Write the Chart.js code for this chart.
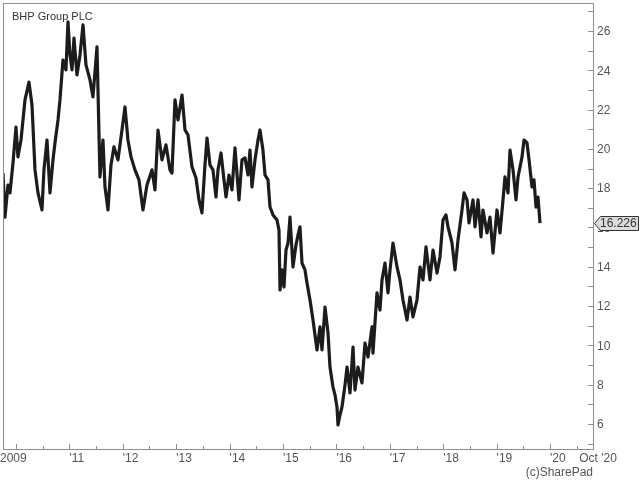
<!DOCTYPE html>
<html>
<head>
<meta charset="utf-8">
<title>BHP Group PLC</title>
<script src="https://cdn.jsdelivr.net/npm/chart.js@4.4.1/dist/chart.umd.min.js"></script>
<style>
  html, body { margin: 0; padding: 0; background: #fff; }
  #wrap { width: 640px; height: 480px; }
</style>
</head>
<body>
<div id="wrap"><canvas id="price-chart" width="640" height="480"></canvas></div>
<script>
// Share price (dates as decimal years)
const chartTitle = "BHP Group PLC";
const credit = "(c)SharePad";

const dates = [
  2009.757, 2009.794, 2009.850, 2009.888, 2009.944, 2010.000, 2010.037, 2010.094, 2010.169, 2010.243,
  2010.300, 2010.356, 2010.412, 2010.487, 2010.524, 2010.581, 2010.637, 2010.693, 2010.730, 2010.787,
  2010.824, 2010.880, 2010.936, 2010.974, 2011.011, 2011.049, 2011.086, 2011.142, 2011.199, 2011.255,
  2011.311, 2011.386, 2011.442, 2011.517, 2011.573, 2011.629, 2011.667, 2011.723, 2011.779, 2011.835,
  2011.910, 2011.985, 2012.041, 2012.097, 2012.154, 2012.228, 2012.303, 2012.378, 2012.453, 2012.547,
  2012.603, 2012.659, 2012.734, 2012.809, 2012.884, 2012.921, 2012.978, 2013.034, 2013.109, 2013.165,
  2013.221, 2013.296, 2013.371, 2013.427, 2013.483, 2013.539, 2013.577, 2013.633, 2013.689, 2013.745,
  2013.783, 2013.839, 2013.895, 2013.933, 2013.989, 2014.045, 2014.101, 2014.176, 2014.232, 2014.288,
  2014.345, 2014.382, 2014.419, 2014.476, 2014.532, 2014.569, 2014.625, 2014.663, 2014.719, 2014.757,
  2014.813, 2014.888, 2014.925, 2014.944, 2014.981, 2015.019, 2015.056, 2015.094, 2015.131, 2015.187,
  2015.243, 2015.281, 2015.318, 2015.356, 2015.412, 2015.449, 2015.506, 2015.562, 2015.599, 2015.637,
  2015.693, 2015.730, 2015.787, 2015.843, 2015.880, 2015.936, 2015.974, 2016.011, 2016.030, 2016.067,
  2016.105, 2016.161, 2016.199, 2016.255, 2016.311, 2016.348, 2016.404, 2016.479, 2016.536, 2016.592,
  2016.667, 2016.685, 2016.760, 2016.816, 2016.854, 2016.910, 2016.966, 2017.004, 2017.060, 2017.135,
  2017.191, 2017.247, 2017.322, 2017.378, 2017.434, 2017.509, 2017.566, 2017.622, 2017.678, 2017.753,
  2017.809, 2017.884, 2017.940, 2017.996, 2018.052, 2018.090, 2018.165, 2018.221, 2018.277, 2018.352,
  2018.390, 2018.446, 2018.483, 2018.558, 2018.596, 2018.652, 2018.708, 2018.745, 2018.820, 2018.876,
  2018.933, 2019.007, 2019.064, 2019.120, 2019.157, 2019.213, 2019.251, 2019.307, 2019.363, 2019.401,
  2019.476, 2019.513, 2019.569, 2019.607, 2019.663, 2019.700, 2019.738, 2019.775, 2019.813
];

const prices = [
  18.77, 16.53, 18.16, 17.76, 19.28, 21.11, 19.59, 20.45, 22.49, 23.40,
  22.23, 18.93, 17.76, 16.89, 18.93, 20.45, 17.76, 19.44, 20.30, 21.47,
  22.49, 24.52, 24.02, 26.46, 24.78, 24.02, 25.64, 23.76, 24.78, 26.31,
  24.27, 23.51, 22.64, 25.19, 18.57, 20.45, 18.06, 16.89, 19.18, 20.10,
  19.44, 20.96, 22.13, 20.45, 19.59, 18.93, 18.42, 16.89, 18.16, 18.93,
  17.91, 20.96, 19.44, 20.20, 18.93, 18.77, 22.49, 21.47, 22.74, 20.96,
  20.71, 19.08, 18.52, 17.40, 16.74, 19.18, 20.55, 19.18, 18.93, 17.55,
  18.93, 19.79, 18.42, 17.55, 18.67, 17.91, 20.05, 17.40, 19.44, 19.54,
  18.67, 19.94, 18.06, 19.44, 20.45, 20.96, 19.94, 18.67, 18.42, 17.04,
  16.64, 16.38, 15.87, 12.82, 13.84, 12.97, 14.85, 15.21, 16.53, 13.99,
  15.11, 15.62, 16.03, 14.19, 13.84, 13.18, 12.31, 11.29, 10.53, 9.77,
  10.94, 9.77, 11.95, 10.63, 8.90, 7.88, 7.48, 6.87, 5.95, 6.46,
  6.87, 7.98, 8.90, 7.58, 9.92, 7.73, 8.90, 8.09, 10.12, 9.41,
  10.94, 9.61, 12.67, 11.80, 13.33, 14.19, 12.67, 13.84, 15.21, 13.99,
  13.33, 12.31, 11.29, 12.46, 11.45, 12.31, 13.99, 13.33, 15.01, 13.33,
  14.85, 13.68, 14.50, 16.38, 16.64, 16.03, 15.21, 13.84, 15.36, 16.89,
  17.76, 17.40, 16.23, 17.40, 16.03, 17.40, 15.52, 16.89, 15.72, 16.53,
  14.70, 16.89, 15.72, 17.40, 18.57, 17.76, 19.94, 18.93, 17.40, 18.57,
  19.59, 20.45, 20.30, 19.44, 18.06, 18.42, 17.04, 17.55, 16.226
];

// Axes
const yTicks = [6, 8, 10, 12, 14, 16, 18, 20, 22, 24, 26];
const yRange = [4.73, 27.42];
const xTickYears = [2010, 2011, 2012, 2013, 2014, 2015, 2016, 2017, 2018, 2019, 2020];
const xTickLabels = ["2009", "'11", "'12", "'13", "'14", "'15", "'16", "'17", "'18", "'19", "'20"];
const xRange = [2009.757, 2020.805];
const endLabel = "Oct '20";

const FONT = '"Liberation Sans", Arial, sans-serif';
const AXIS_COLOR = "#8f8f8f";
const TEXT_COLOR = "#555";

// SharePad style frame, inward ticks, labels and the last price tag
const sharepadAxes = {
  id: "sharepadAxes",
  afterDraw(chart) {
    const { ctx, chartArea: a } = chart;
    const xs = chart.scales.x;
    const ys = chart.scales.y;
    ctx.save();

    // frame
    ctx.strokeStyle = AXIS_COLOR;
    ctx.lineWidth = 1;
    ctx.strokeRect(a.left + 0.5, a.top + 0.5, a.right - a.left, a.bottom - a.top);

    // y ticks every 1, drawn inside the plot
    ctx.beginPath();
    for (let v = Math.ceil(yRange[0]); v <= yRange[1]; v++) {
      const py = Math.round(ys.getPixelForValue(v)) + 0.5;
      ctx.moveTo(a.right - 5, py);
      ctx.lineTo(a.right, py);
    }
    // x ticks: years long, half years short
    for (let t = xTickYears[0]; t <= xRange[1]; t += 0.5) {
      const px = Math.round(xs.getPixelForValue(t)) + 0.5;
      const len = Number.isInteger(t) ? 5 : 3;
      ctx.moveTo(px, a.bottom);
      ctx.lineTo(px, a.bottom - len);
    }
    ctx.stroke();

    // y labels
    ctx.fillStyle = TEXT_COLOR;
    ctx.font = "12px " + FONT;
    ctx.textAlign = "left";
    ctx.textBaseline = "middle";
    yTicks.forEach((v) => {
      ctx.fillText(String(v), a.right + 4, ys.getPixelForValue(v) + 1);
    });

    // x labels
    ctx.textBaseline = "alphabetic";
    xTickYears.forEach((yr, i) => {
      const px = i === 0 ? a.left - 3 : xs.getPixelForValue(yr);
      ctx.fillText(xTickLabels[i], px, a.bottom + 13);
    });
    ctx.textAlign = "center";
    ctx.fillText(endLabel, a.right + 5, a.bottom + 13);

    // credit
    ctx.textAlign = "right";
    ctx.fillText(credit, a.right, a.bottom + 27);

    // title
    ctx.fillStyle = "#333";
    ctx.font = "11px " + FONT;
    ctx.textAlign = "left";
    ctx.fillText(chartTitle, a.left + 9, a.top + 17);

    // last price tag
    const last = prices[prices.length - 1];
    const ty = Math.round(ys.getPixelForValue(last)) + 0.5;
    const l = a.right + 1.5;
    ctx.beginPath();
    ctx.moveTo(l, ty);
    ctx.lineTo(l + 6, ty - 7);
    ctx.lineTo(638.5, ty - 7);
    ctx.lineTo(638.5, ty + 7);
    ctx.lineTo(l + 6, ty + 7);
    ctx.closePath();
    ctx.fillStyle = "#dcdcdc";
    ctx.fill();
    ctx.strokeStyle = "#333";
    ctx.stroke();
    ctx.fillStyle = "#333";
    ctx.font = "12px " + FONT;
    ctx.textAlign = "left";
    ctx.textBaseline = "middle";
    ctx.fillText(last.toFixed(3), a.right + 7, ty + 0.5);

    ctx.restore();
  },
};

const points = dates.map((d, i) => ({ x: d, y: prices[i] }));

new Chart(document.getElementById("price-chart"), {
  type: "line",
  data: {
    datasets: [
      {
        label: chartTitle,
        data: points,
        borderColor: "#1c1c1c",
        borderWidth: 3.2,
        borderJoinStyle: "round",
        pointRadius: 0,
        tension: 0,
        fill: false,
      },
    ],
  },
  options: {
    responsive: false,
    animation: false,
    layout: {
      padding: { left: 3, top: 3, right: 47, bottom: 31 },
    },
    plugins: {
      legend: { display: false },
      tooltip: { enabled: false },
      title: { display: false },
    },
    scales: {
      x: { type: "linear", display: false, min: xRange[0], max: xRange[1] },
      y: { type: "linear", display: false, min: yRange[0], max: yRange[1] },
    },
  },
  plugins: [sharepadAxes],
});
</script>
</body>
</html>
